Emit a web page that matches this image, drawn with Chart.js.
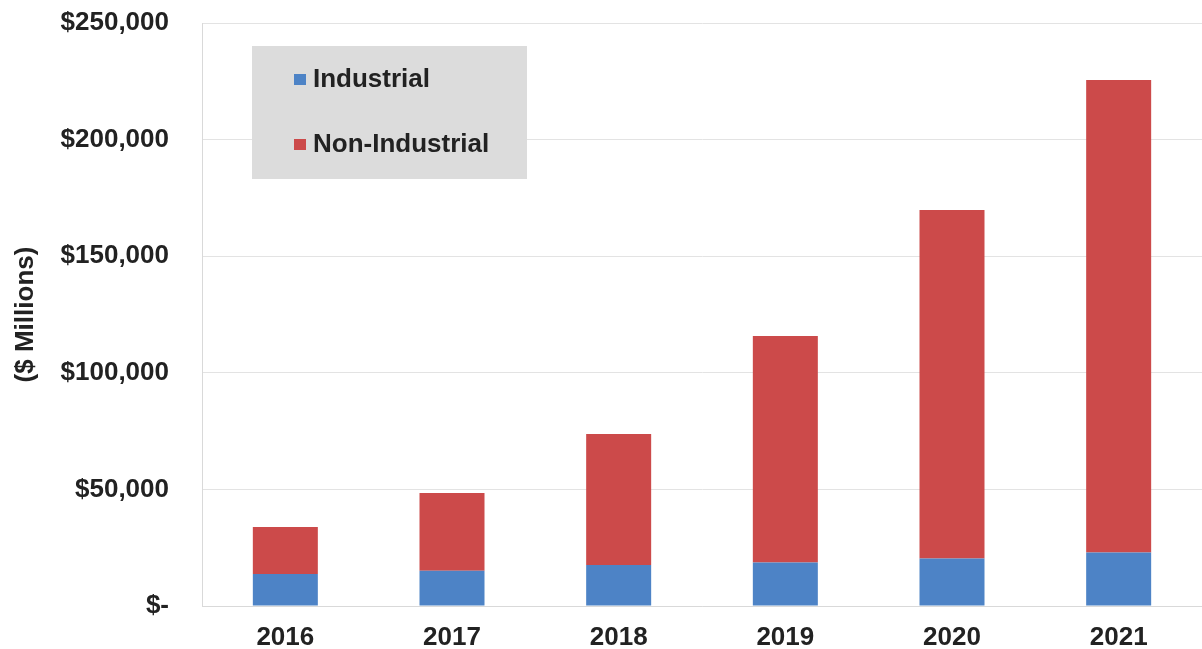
<!DOCTYPE html>
<html>
<head>
<meta charset="utf-8">
<script src="https://cdn.jsdelivr.net/npm/chart.js@4"></script>
<style>
  html, body { margin: 0; padding: 0; background: #fff; }
  #wrap { width: 1202px; height: 649px; }
</style>
</head>
<body>
<div id="wrap"><canvas id="chart" width="1202" height="649"></canvas></div>
<script>
const years = ['2016', '2017', '2018', '2019', '2020', '2021'];
const industrial = [13700, 15100, 17600, 18700, 20400, 22900];
const nonIndustrial = [20200, 33400, 56200, 97100, 149400, 202700];
const yTicks = [0, 50000, 100000, 150000, 200000, 250000];

const FONT = "'Liberation Sans', Arial, sans-serif";
const BLUE = '#4d83c6';
const RED = '#cc4a4a';

// gray legend box drawn on top of the plot, like the original
const boxLegendPlugin = {
  id: 'boxLegend',
  afterDraw(chart) {
    const ctx = chart.ctx;
    const x0 = 252, y0 = 46, w = 275, h = 133;
    ctx.save();
    ctx.fillStyle = '#dcdcdc';
    ctx.fillRect(x0, y0, w, h);
    ctx.font = 'bold 26px ' + FONT;
    ctx.textBaseline = 'middle';
    chart.data.datasets.forEach((ds, i) => {
      const cy = 80 + i * 65;
      ctx.fillStyle = ds.backgroundColor;
      ctx.fillRect(294, cy - 6, 12, 11);
      ctx.fillStyle = '#222';
      ctx.fillText(ds.label, 313, cy);
    });
    ctx.restore();
  }
};

const config = {
  type: 'bar',
  data: {
    labels: years,
    datasets: [
      {
        label: 'Industrial',
        data: industrial,
        backgroundColor: BLUE,
        categoryPercentage: 1,
        barPercentage: 0.39,
      },
      {
        label: 'Non-Industrial',
        data: nonIndustrial,
        backgroundColor: RED,
        categoryPercentage: 1,
        barPercentage: 0.39,
      },
    ]
  },
  options: {
    responsive: false,
    animation: false,
    layout: { padding: { top: 23, right: 0, bottom: 0, left: 0 } },
    scales: {
      x: {
        stacked: true,
        grid: { display: false, drawTicks: false },
        border: { color: '#d9d9d9', width: 1 },
        ticks: {
          color: '#222',
          padding: 16,
          font: { family: FONT, size: 26, weight: 'bold' }
        },
        afterFit(scale) { scale.height = 43; }
      },
      y: {
        stacked: true,
        min: 0,
        max: 250000,
        afterBuildTicks(scale) {
          scale.ticks = yTicks.map(v => ({ value: v }));
        },
        grid: { color: '#e3e3e3', drawTicks: true, tickLength: 30, tickColor: 'rgba(0,0,0,0)' },
        border: { color: '#d9d9d9', width: 1 },
        ticks: {
          color: '#222',
          padding: 3,
          font: { family: FONT, size: 26, weight: 'bold' },
          callback: function(value) {
            if (value === 0) return '$-';
            return '$' + value.toLocaleString('en-US');
          }
        },
        title: {
          display: true,
          text: '($ Millions)',
          color: '#222',
          font: { family: FONT, size: 26, weight: 'bold' },
          padding: { top: 10, bottom: 0 }
        },
        afterFit(scale) { scale.width = 202; }
      }
    },
    plugins: {
      legend: { display: false },
      tooltip: { enabled: false }
    }
  },
  plugins: [boxLegendPlugin]
};

new Chart(document.getElementById('chart').getContext('2d'), config);
</script>
</body>
</html>
